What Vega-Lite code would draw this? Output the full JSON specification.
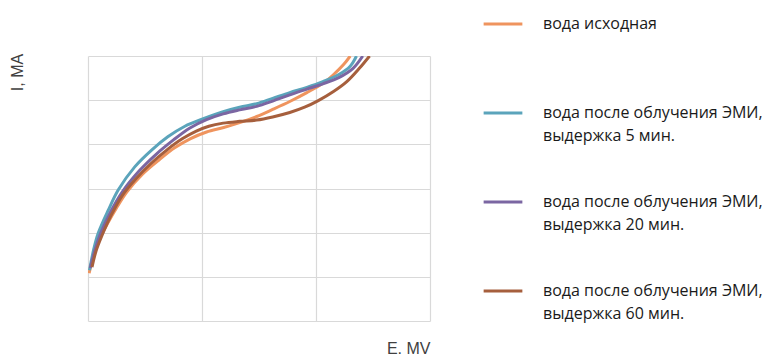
{
  "$schema": "https://vega.github.io/schema/vega-lite/v6.json",
  "autosize": {"type": "none"},
  "padding": {"left": 88, "top": 56, "right": 337, "bottom": 33},
  "width": 342,
  "height": 265,
  "background": "white",
  "config": {
    "view": {"stroke": null},
    "font": "Liberation Sans"
  },
  "data": {
    "values": [
      {"s": "вода исходная|", "E": 0.01, "I": 1.08},
      {"s": "вода исходная|", "E": 0.05, "I": 1.5},
      {"s": "вода исходная|", "E": 0.1, "I": 1.85},
      {"s": "вода исходная|", "E": 0.17, "I": 2.2},
      {"s": "вода исходная|", "E": 0.25, "I": 2.56},
      {"s": "вода исходная|", "E": 0.34, "I": 2.92},
      {"s": "вода исходная|", "E": 0.48, "I": 3.33},
      {"s": "вода исходная|", "E": 0.62, "I": 3.64},
      {"s": "вода исходная|", "E": 0.76, "I": 3.92},
      {"s": "вода исходная|", "E": 0.9, "I": 4.13},
      {"s": "вода исходная|", "E": 1.04, "I": 4.28},
      {"s": "вода исходная|", "E": 1.19, "I": 4.38},
      {"s": "вода исходная|", "E": 1.33, "I": 4.49},
      {"s": "вода исходная|", "E": 1.48, "I": 4.63},
      {"s": "вода исходная|", "E": 1.62, "I": 4.79},
      {"s": "вода исходная|", "E": 1.77, "I": 4.97},
      {"s": "вода исходная|", "E": 1.92, "I": 5.17},
      {"s": "вода исходная|", "E": 2.06, "I": 5.38},
      {"s": "вода исходная|", "E": 2.15, "I": 5.57},
      {"s": "вода исходная|", "E": 2.24, "I": 5.8},
      {"s": "вода исходная|", "E": 2.3, "I": 6.0},

      {"s": "вода после облучения ЭМИ,|выдержка 5 мин.", "E": 0.013, "I": 1.15},
      {"s": "вода после облучения ЭМИ,|выдержка 5 мин.", "E": 0.05, "I": 1.62},
      {"s": "вода после облучения ЭМИ,|выдержка 5 мин.", "E": 0.09, "I": 1.99},
      {"s": "вода после облучения ЭМИ,|выдержка 5 мин.", "E": 0.178, "I": 2.51},
      {"s": "вода после облучения ЭМИ,|выдержка 5 мин.", "E": 0.266, "I": 2.97},
      {"s": "вода после облучения ЭМИ,|выдержка 5 мин.", "E": 0.41, "I": 3.49},
      {"s": "вода после облучения ЭМИ,|выдержка 5 мин.", "E": 0.558, "I": 3.87},
      {"s": "вода после облучения ЭМИ,|выдержка 5 мин.", "E": 0.7, "I": 4.17},
      {"s": "вода после облучения ЭМИ,|выдержка 5 мин.", "E": 0.85, "I": 4.41},
      {"s": "вода после облучения ЭМИ,|выдержка 5 мин.", "E": 1.0, "I": 4.57},
      {"s": "вода после облучения ЭМИ,|выдержка 5 мин.", "E": 1.186, "I": 4.74},
      {"s": "вода после облучения ЭМИ,|выдержка 5 мин.", "E": 1.33, "I": 4.84},
      {"s": "вода после облучения ЭМИ,|выдержка 5 мин.", "E": 1.48, "I": 4.92},
      {"s": "вода после облучения ЭМИ,|выдержка 5 мин.", "E": 1.62, "I": 5.04},
      {"s": "вода после облучения ЭМИ,|выдержка 5 мин.", "E": 1.77, "I": 5.17},
      {"s": "вода после облучения ЭМИ,|выдержка 5 мин.", "E": 1.92, "I": 5.29},
      {"s": "вода после облучения ЭМИ,|выдержка 5 мин.", "E": 2.06, "I": 5.42},
      {"s": "вода после облучения ЭМИ,|выдержка 5 мин.", "E": 2.2, "I": 5.58},
      {"s": "вода после облучения ЭМИ,|выдержка 5 мин.", "E": 2.3, "I": 5.77},
      {"s": "вода после облучения ЭМИ,|выдержка 5 мин.", "E": 2.355, "I": 6.0},

      {"s": "вода после облучения ЭМИ,|выдержка 20 мин.", "E": 0.02, "I": 1.2},
      {"s": "вода после облучения ЭМИ,|выдержка 20 мин.", "E": 0.06, "I": 1.6},
      {"s": "вода после облучения ЭМИ,|выдержка 20 мин.", "E": 0.11, "I": 1.98},
      {"s": "вода после облучения ЭМИ,|выдержка 20 мин.", "E": 0.2, "I": 2.48},
      {"s": "вода после облучения ЭМИ,|выдержка 20 мин.", "E": 0.3, "I": 2.92},
      {"s": "вода после облучения ЭМИ,|выдержка 20 мин.", "E": 0.45, "I": 3.4},
      {"s": "вода после облучения ЭМИ,|выдержка 20 мин.", "E": 0.6, "I": 3.78},
      {"s": "вода после облучения ЭМИ,|выдержка 20 мин.", "E": 0.75, "I": 4.1},
      {"s": "вода после облучения ЭМИ,|выдержка 20 мин.", "E": 0.894, "I": 4.37},
      {"s": "вода после облучения ЭМИ,|выдержка 20 мин.", "E": 1.04, "I": 4.56},
      {"s": "вода после облучения ЭМИ,|выдержка 20 мин.", "E": 1.186, "I": 4.69},
      {"s": "вода после облучения ЭМИ,|выдержка 20 мин.", "E": 1.33, "I": 4.78},
      {"s": "вода после облучения ЭМИ,|выдержка 20 мин.", "E": 1.48, "I": 4.86},
      {"s": "вода после облучения ЭМИ,|выдержка 20 мин.", "E": 1.62, "I": 4.98},
      {"s": "вода после облучения ЭМИ,|выдержка 20 мин.", "E": 1.77, "I": 5.12},
      {"s": "вода после облучения ЭМИ,|выдержка 20 мин.", "E": 1.92, "I": 5.25},
      {"s": "вода после облучения ЭМИ,|выдержка 20 мин.", "E": 2.06, "I": 5.37},
      {"s": "вода после облучения ЭМИ,|выдержка 20 мин.", "E": 2.2, "I": 5.51},
      {"s": "вода после облучения ЭМИ,|выдержка 20 мин.", "E": 2.325, "I": 5.72},
      {"s": "вода после облучения ЭМИ,|выдержка 20 мин.", "E": 2.41, "I": 6.0},

      {"s": "вода после облучения ЭМИ,|выдержка 60 мин.", "E": 0.035, "I": 1.22},
      {"s": "вода после облучения ЭМИ,|выдержка 60 мин.", "E": 0.07, "I": 1.58},
      {"s": "вода после облучения ЭМИ,|выдержка 60 мин.", "E": 0.12, "I": 1.92},
      {"s": "вода после облучения ЭМИ,|выдержка 60 мин.", "E": 0.2, "I": 2.38},
      {"s": "вода после облучения ЭМИ,|выдержка 60 мин.", "E": 0.3, "I": 2.84},
      {"s": "вода после облучения ЭМИ,|выдержка 60 мин.", "E": 0.42, "I": 3.22},
      {"s": "вода после облучения ЭМИ,|выдержка 60 мин.", "E": 0.55, "I": 3.56},
      {"s": "вода после облучения ЭМИ,|выдержка 60 мин.", "E": 0.69, "I": 3.87},
      {"s": "вода после облучения ЭМИ,|выдержка 60 мин.", "E": 0.83, "I": 4.13},
      {"s": "вода после облучения ЭМИ,|выдержка 60 мин.", "E": 0.95, "I": 4.3},
      {"s": "вода после облучения ЭМИ,|выдержка 60 мин.", "E": 1.06, "I": 4.41},
      {"s": "вода после облучения ЭМИ,|выдержка 60 мин.", "E": 1.186, "I": 4.48},
      {"s": "вода после облучения ЭМИ,|выдержка 60 мин.", "E": 1.33, "I": 4.52},
      {"s": "вода после облучения ЭМИ,|выдержка 60 мин.", "E": 1.48, "I": 4.55},
      {"s": "вода после облучения ЭМИ,|выдержка 60 мин.", "E": 1.62, "I": 4.62},
      {"s": "вода после облучения ЭМИ,|выдержка 60 мин.", "E": 1.77, "I": 4.72},
      {"s": "вода после облучения ЭМИ,|выдержка 60 мин.", "E": 1.9, "I": 4.84},
      {"s": "вода после облучения ЭМИ,|выдержка 60 мин.", "E": 2.02, "I": 4.99},
      {"s": "вода после облучения ЭМИ,|выдержка 60 мин.", "E": 2.15, "I": 5.19},
      {"s": "вода после облучения ЭМИ,|выдержка 60 мин.", "E": 2.27, "I": 5.42},
      {"s": "вода после облучения ЭМИ,|выдержка 60 мин.", "E": 2.38, "I": 5.72},
      {"s": "вода после облучения ЭМИ,|выдержка 60 мин.", "E": 2.47, "I": 6.0}
    ]
  },
  "mark": {"type": "line", "interpolate": "catmull-rom", "strokeWidth": 3, "clip": true},
  "encoding": {
    "x": {
      "field": "E", "type": "quantitative",
      "scale": {"domain": [0, 3], "nice": false, "zero": false},
      "axis": {
        "values": [0, 1, 2, 3], "labels": false, "ticks": false, "domain": false,
        "grid": true, "gridColor": "#d9d9d9", "gridWidth": 1.2,
        "title": "E, MV", "titleFont": "Liberation Sans", "titleFontSize": 16, "titleFontWeight": "normal",
        "titleColor": "#404040", "titleX": 342, "titleY": 32, "titleAlign": "right", "titleBaseline": "alphabetic"
      }
    },
    "y": {
      "field": "I", "type": "quantitative",
      "scale": {"domain": [0, 6], "nice": false, "zero": false},
      "axis": {
        "values": [0, 1, 2, 3, 4, 5, 6], "labels": false, "ticks": false, "domain": false,
        "grid": true, "gridColor": "#d9d9d9", "gridWidth": 1.2,
        "title": "I, MA", "titleFont": "Liberation Sans", "titleFontSize": 16, "titleFontWeight": "normal",
        "titleColor": "#404040", "titleX": -71, "titleY": 16, "titleAngle": -90, "titleAlign": "center", "titleBaseline": "middle"
      }
    },
    "color": {
      "field": "s", "type": "nominal",
      "scale": {
        "domain": ["вода исходная|", "вода после облучения ЭМИ,|выдержка 5 мин.", "вода после облучения ЭМИ,|выдержка 20 мин.", "вода после облучения ЭМИ,|выдержка 60 мин."],
        "range": ["#EF945E", "#5BA4BB", "#7B66A2", "#A65F3D"]
      },
      "legend": {
        "title": null,
        "orient": "none",
        "legendX": 394,
        "legendY": -53,
        "padding": 0,
        "symbolType": "stroke",
        "symbolSize": 1500,
        "symbolStrokeWidth": 3,
        "labelOffset": 19,
        "labelExpr": "split(datum.label, '|')",
        "labelFont": "Open Sans",
        "labelFontSize": 16,
        "labelColor": "#1a1a1a",
        "labelLimit": 400,
        "labelBaseline": "middle",
        "rowPadding": 37,
        "encode": {"labels": {"update": {"lineHeight": {"value": 23}}}}
      }
    }
  }
}
